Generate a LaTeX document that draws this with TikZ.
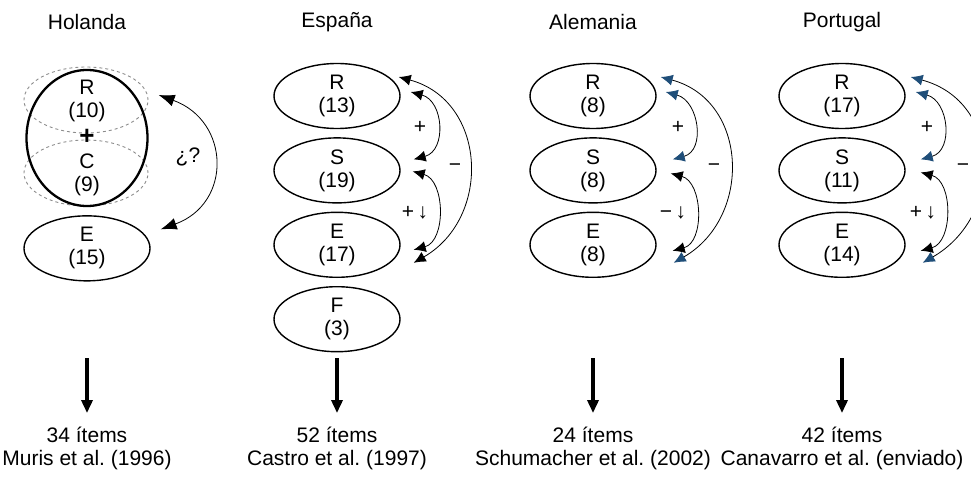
\documentclass[tikz,border=0pt]{standalone}
\usepackage{fontspec}
\setmainfont{Liberation Sans}
\usepackage{xcolor}
\usetikzlibrary{positioning, arrows.meta, shapes.geometric}
\definecolor{tipblue}{HTML}{1F4E79}
\definecolor{dashgray}{HTML}{8C8C8C}
\frenchspacing

\tikzset{
  txt/.style={font=\fontsize{21}{23}\selectfont},
  factor/.style={txt, draw, ellipse, line width=1.4pt, minimum width=126pt,
                 minimum height=65pt, inner sep=0pt, align=center},
  halo/.style={draw=dashgray, dashed, ellipse, line width=0.9pt,
               minimum width=124pt, minimum height=66pt, inner sep=0pt},
  link/.style={line width=0.8pt},
  bkbk/.style={link, {Latex[length=12pt,width=11pt]}-{Latex[length=12pt,width=11pt]}},
  blbl/.style={link, {Latex[length=12pt,width=11pt,color=tipblue]}-{Latex[length=12pt,width=11pt,color=tipblue]}},
  bigarrow/.style={line width=4.5pt, -{Triangle[length=13pt,width=11pt]}},
}

\begin{document}
\begin{tikzpicture}[x=1pt, y=1pt]
  \useasboundingbox (0,0) rectangle (971,477);

  % Holanda
  \node[txt] (hoName) at (87,455) {Holanda};
  \node[halo] (hoRdash) at (86,377) {};
  \node[halo] (hoCdash) at (86,304) {};
  \node[draw, ellipse, line width=2.3pt, minimum width=121pt,
        minimum height=136pt] (hoRC) at (87,339) {};
  \node[txt, align=center] (hoR) at (87,376) {R\\(10)};
  \node[font=\fontsize{26}{26}\selectfont\bfseries] (hoPlus) at (87,340) {+};
  \node[txt, align=center] (hoC) at (87,302) {C\\(9)};
  \node[factor, below=8pt of hoRC] (hoE) {E\\(15)};
  \draw[link, {Latex[length=16pt,width=12pt]}-{Latex[length=16pt,width=12pt]}]
    ([shift={(10,43)}]hoRC.east) to[out=-20, in=20, looseness=1.45]
    ([shift={(10,19)}]hoE.east);
  \node[txt] (hoQ) at (188,320) {¿?};

  % España
  \node[txt] (esName) at (337,455) {España};
  \node[factor] (esR) at (337,381) {R\\(13)};
  \node[factor, below=8pt of esR] (esS) {S\\(19)};
  \node[factor, below=8pt of esS] (esE) {E\\(17)};
  \node[factor, below=8pt of esE] (esF) {F\\(3)};
  \draw[bkbk] ([shift={(10,4)}]esR.east)
    to[out=-15, in=15, looseness=1.3] ([shift={(13,11)}]esS.east);
  \draw[bkbk] ([shift={(12,-1)}]esS.east)
    to[out=-15, in=15, looseness=1.1] ([shift={(13,-5)}]esE.east);
  \draw[bkbk] ([shift={(-2,19)}]esR.east)
    to[out=-15, in=30, looseness=1.25] ([shift={(13,-18)}]esE.east);
  \node[txt] at (420,350) {+};
  \node[txt] at (415,264) {+\,↓};
  \node[txt] at (455,309) {−};

  % Alemania
  \node[txt] (alName) at (593,455) {Alemania};
  \node[factor] (alR) at (593,381) {R\\(8)};
  \node[factor, below=8pt of alR] (alS) {S\\(8)};
  \node[factor, below=8pt of alS] (alE) {E\\(8)};
  \draw[blbl] ([shift={(9,4)}]alR.east)
    to[out=-15, in=15, looseness=1.3] ([shift={(16,11)}]alS.east);
  \draw[bkbk] ([shift={(14,-3)}]alS.east)
    to[out=-15, in=15, looseness=1.1] ([shift={(16,-6)}]alE.east);
  \draw[blbl] ([shift={(4,19)}]alR.east)
    to[out=-15, in=30, looseness=1.25] ([shift={(17,-18)}]alE.east);
  \node[txt] at (678,350) {+};
  \node[txt] at (673,264) {−\,↓};
  \node[txt] at (714,309) {−};

  % Portugal
  \node[txt] (ptName) at (842,455) {Portugal};
  \node[factor] (ptR) at (842,381) {R\\(17)};
  \node[factor, below=8pt of ptR] (ptS) {S\\(11)};
  \node[factor, below=8pt of ptS] (ptE) {E\\(14)};
  \draw[blbl] ([shift={(10,4)}]ptR.east)
    to[out=-15, in=15, looseness=1.3] ([shift={(15,11)}]ptS.east);
  \draw[bkbk] ([shift={(15,-2)}]ptS.east)
    to[out=-15, in=15, looseness=1.1] ([shift={(15,-6)}]ptE.east);
  \draw[blbl] ([shift={(5,19)}]ptR.east)
    to[out=-15, in=30, looseness=1.3] ([shift={(17,-18)}]ptE.east);
  \node[txt] at (927,350) {+};
  \node[txt] at (923,264) {+\,↓};
  \node[txt] at (963,309) {−};

  % number of items and source
  \node[txt, align=center] (hoSrc) at (87,29) {34 ítems\\Muris et al. (1996)};
  \node[txt, align=center] (esSrc) at (337,29) {52 ítems\\Castro et al. (1997)};
  \node[txt, align=center] (alSrc) at (593,29) {24 ítems\\Schumacher et al. (2002)};
  \node[txt, align=center] (ptSrc) at (842,29) {42 ítems\\Canavarro et al. (enviado)};
  \coordinate (hoFoot) at (87,119);
  \coordinate (esFoot) at (337,119);
  \coordinate (alFoot) at (593,119);
  \coordinate (ptFoot) at (842,119);
  \draw[bigarrow, shorten >=10pt] (hoFoot) -- (hoSrc);
  \draw[bigarrow, shorten >=10pt] (esFoot) -- (esSrc);
  \draw[bigarrow, shorten >=10pt] (alFoot) -- (alSrc);
  \draw[bigarrow, shorten >=10pt] (ptFoot) -- (ptSrc);
\end{tikzpicture}
\end{document}
